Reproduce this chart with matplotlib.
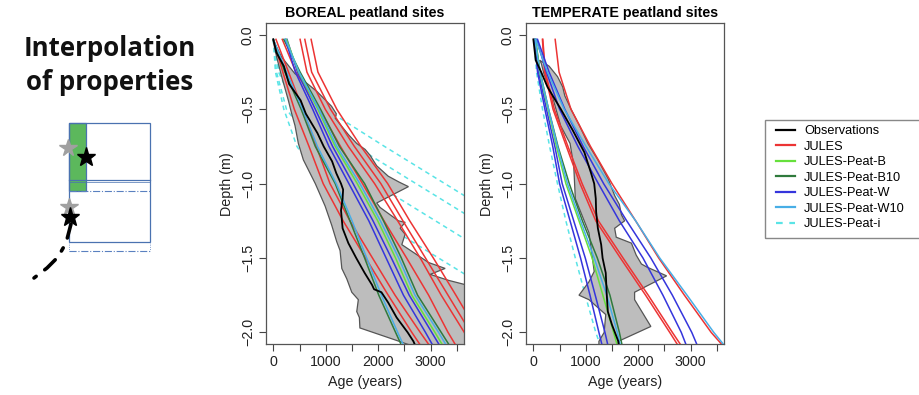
import matplotlib
matplotlib.use("Agg")
import matplotlib.pyplot as plt
from matplotlib.patches import Rectangle
from matplotlib.lines import Line2D
import numpy as np

plt.rcParams['font.family'] = ['Liberation Sans', 'DejaVu Sans']

# ---------------- data (ages in years, depth in m below surface) ----------------
depth = [0.03, 0.25, 0.5, 0.75, 1.0, 1.25, 1.5, 1.75, 2.0, 2.1]

# BOREAL
bor_obs_depth = [0.03, 0.12, 0.21, 0.33, 0.44, 0.53, 0.66, 0.75, 0.85, 0.93, 1.0, 1.04, 1.1,
                 1.18, 1.3, 1.4, 1.5, 1.6, 1.68, 1.71, 1.73, 1.8, 1.9, 2.0, 2.06, 2.1]
bor_obs_age = [0, 60, 200, 300, 520, 620, 840, 960, 1120, 1200, 1290, 1330, 1320,
               1290, 1320, 1430, 1580, 1740, 1880, 1920, 2060, 2190, 2350, 2560, 2670, 2720]
bor_env_depth = [0.03, 0.15, 0.26, 0.38, 0.48, 0.53, 0.56, 0.6, 0.67, 0.73, 0.77, 0.81, 0.88,
                 0.95, 0.99, 1.02, 1.13, 1.16, 1.25, 1.26, 1.30, 1.34, 1.41, 1.47, 1.53, 1.57,
                 1.61, 1.65, 1.68, 1.70, 2.2, 2.08, 2.05, 1.97, 1.90, 1.86, 1.78, 1.73, 1.64,
                 1.57, 1.45, 1.39, 1.28, 1.15, 1.0, 0.84, 0.73, 0.61, 0.53, 0.44, 0.28, 0.15]
bor_env_age = [-10, 160, 410, 830, 1110, 1200, 1180, 1270, 1430, 1590, 1750, 1845, 1970,
               2190, 2400, 2575, 1970, 2035, 2385, 2512, 2417, 2512, 2449, 2703, 2957, 3275,
               2989, 3339, 3670, 3900, 3900, 2560, 2316, 1650, 1640, 1590, 1620, 1495, 1400,
               1305, 1272, 1208, 1113, 986, 800, 572, 477, 413, 350, 286, 159, 64]
bor_jules = [[510, 640, 990, 1430, 1930, 2370, 2800, 3200, 3640, 3820],
             [600, 730, 1090, 1545, 2050, 2470, 2900, 3330, 3760, 3950],
             [720, 850, 1210, 1670, 2180, 2600, 3050, 3480, 3900, 4100],
             [170, 430, 880, 1280, 1700, 2110, 2540, 2960, 3330, 3500],
             [0, 180, 400, 680, 950, 1330, 1760, 2190, 2640, 2830],
             [50, 290, 560, 820, 1080, 1460, 1890, 2320, 2800, 3000]]
bor_peat_b = [[250, 480, 850, 1180, 1600, 1990, 2330, 2640, 3080, 3250]]
bor_peat_b10 = [[200, 510, 900, 1260, 1740, 2100, 2440, 2750, 3200, 3380],
                [0, 220, 530, 800, 1180, 1460, 1740, 2010, 2330, 2460]]
bor_peat_w = [[230, 420, 750, 1060, 1440, 1820, 2150, 2480, 2900, 3060],
              [260, 460, 800, 1130, 1520, 1900, 2250, 2590, 3020, 3190]]
bor_peat_w10 = [[230, 490, 870, 1210, 1650, 2040, 2390, 2700, 3150, 3320],
                [0, 250, 560, 840, 1200, 1500, 1780, 2060, 2370, 2500]]
bor_peat_i = [[0, 120, 1000, 2120, 3270, 4420, 5570, 6700, 7800, 8300],
              [0, 100, 420, 1570, 2720, 3870, 5020, 6170, 7300, 7800],
              [0, 60, 250, 790, 1940, 3090, 4240, 5390, 6500, 7000],
              [0, 40, 200, 450, 950, 2000, 3150, 4300, 5450, 5900]]

# TEMPERATE
tem_obs_depth = [0.03, 0.17, 0.25, 0.35, 0.5, 0.64, 0.79, 0.93, 1.0, 1.1, 1.19, 1.3, 1.41,
                 1.5, 1.6, 1.75, 1.86, 1.95, 2.06, 2.1]
tem_obs_age = [0, 45, 150, 269, 525, 749, 973, 1101, 1160, 1190, 1197, 1230, 1293,
               1320, 1380, 1400, 1420, 1500, 1620, 1640]
tem_env_depth = [0.17, 0.21, 0.28, 0.35, 0.41, 0.5, 0.61, 0.73, 0.84, 0.97, 1.08, 1.14, 1.21,
                 1.25, 1.30, 1.36, 1.40, 1.48, 1.54, 1.56, 1.62, 1.73, 1.78, 1.96, 2.06, 2.2,
                 2.2, 2.06, 2.0, 1.88, 1.78, 1.75, 1.66, 1.59, 1.33, 1.10, 0.88, 0.73, 0.61,
                 0.41, 0.26, 0.19]
tem_env_age = [120, 300, 460, 560, 600, 720, 880, 1040, 1230, 1430, 1550, 1640, 1680,
               1740, 1550, 1580, 1870, 1960, 2060, 2160, 2540, 1930, 1930, 2240, 1620, 1550,
               1250, 1250, 1350, 1380, 1060, 870, 1060, 1160, 1060, 800, 770, 700, 520,
               360, 200, 150]
tem_jules = [[416, 490, 717, 1090, 1500, 1950, 2390, 2880, 3390, 3640],
             [173, 215, 375, 630, 890, 1190, 1660, 2140, 2600, 2780],
             [180, 230, 400, 660, 930, 1240, 1710, 2190, 2650, 2840]]
tem_peat_b = [[40, 120, 280, 440, 620, 870, 1120, 1325, 1530, 1610]]
tem_peat_b10 = [[40, 130, 290, 470, 685, 935, 1220, 1460, 1640, 1700]]
tem_peat_w = [[60, 250, 500, 850, 1240, 1640, 2090, 2470, 2820, 2930],
              [80, 300, 600, 950, 1340, 1780, 2240, 2650, 3020, 3140],
              [30, 100, 250, 410, 550, 770, 990, 1180, 1365, 1430],
              [20, 80, 220, 370, 500, 700, 900, 1080, 1250, 1320]]
tem_peat_w10 = [[45, 269, 589, 1005, 1440, 1950, 2410, 2930, 3440, 3670],
                [30, 125, 290, 460, 650, 900, 1160, 1400, 1600, 1670]]
tem_peat_i = [[13, 60, 175, 310, 460, 620, 800, 990, 1190, 1290]]

legend_labels = ["Observations", "JULES", "JULES-Peat-B", "JULES-Peat-B10",
                 "JULES-Peat-W", "JULES-Peat-W10", "JULES-Peat-i"]

# left sketch (pixel coordinates of the illustration)
sketch_box = (69, 123, 81, 119)
sketch_green = (69, 123, 17, 68)
sketch_mid_y = 180
sketch_dash_y = [191, 251]
sketch_stars_grey = [(68, 148), (69, 207)]
sketch_stars_black = [(86, 157), (70, 217)]
sketch_path_x = [71, 66, 58, 47, 34]
sketch_path_y = [224, 243, 257, 268, 278]

# ---------------- style ----------------
c_obs = 'black'
c_jules = '#ec3434'
c_b = '#66e03c'
c_b10 = '#2f7a3c'
c_w = '#3535dc'
c_w10 = '#48aee6'
c_i = '#5ae4e6'
lw = 1.1
dash = (3, 2.5)

fig = plt.figure(figsize=(9.2, 3.95), dpi=100)

# illustration layer
dax = fig.add_axes([0, 0, 1, 1])
dax.set_xlim(0, 920)
dax.set_ylim(395, 0)
dax.axis('off')
dax.text(110, 49, "Interpolation", ha='center', va='center', fontsize=18.6,
         fontweight='bold', family=['Open Sans', 'DejaVu Sans'], color='#111111')
dax.text(110, 82, "of properties", ha='center', va='center', fontsize=18.6,
         fontweight='bold', family=['Open Sans', 'DejaVu Sans'], color='#111111')
bx, by, bw, bh = sketch_box
gx, gy, gw, gh = sketch_green
dax.add_patch(Rectangle((gx, gy), gw, gh, facecolor='#5cb85c', edgecolor='#4a72b0', lw=0.9))
dax.add_patch(Rectangle((bx, by), bw, bh, facecolor='none', edgecolor='#4a72b0', lw=0.9))
dax.plot([bx, bx + bw], [sketch_mid_y, sketch_mid_y], color='#4a72b0', lw=0.9)
dax.plot([bx, bx + bw], [sketch_mid_y + 2, sketch_mid_y + 2], color='#4a72b0', lw=0.5)
for yy in sketch_dash_y:
    dax.plot([bx, bx + bw], [yy, yy], color='#5a80c0', lw=0.8, ls='-.')
dax.plot([bx, bx], [by + bh, sketch_dash_y[1]], color='#5a80c0', lw=0.6, ls=':')
dax.plot([bx + bw, bx + bw], [by + bh, sketch_dash_y[1]], color='#5a80c0', lw=0.6, ls=':')
for (sx, sy) in sketch_stars_grey:
    dax.plot(sx, sy, marker='*', ms=13, color='#a0a0a0', mec='#a0a0a0')
for (sx, sy) in sketch_stars_black:
    dax.plot(sx, sy, marker='*', ms=14, color='black')
dax.plot(sketch_path_x, sketch_path_y, color='black', lw=2.6, ls=(0, (4, 3, 1, 3)),
         solid_capstyle='round', dash_capstyle='round')


def panel(ax, title, env_d, env_a, obs_d, obs_a, jules, pb, pb10, pw, pw10, pi):
    d = -np.array(depth)
    for ages in pi:
        ax.plot(ages, d, color=c_i, lw=lw, ls=(0, dash), zorder=1)
    ax.fill(env_a, -np.array(env_d), facecolor='#bdbdbd', edgecolor='#555555',
            lw=0.9, zorder=2)
    for group, col in ((jules, c_jules), (pb10, c_b10), (pw, c_w), (pb, c_b), (pw10, c_w10)):
        for ages in group:
            ax.plot(ages, d, color=col, lw=lw, zorder=3)
    ax.plot(obs_a, -np.array(obs_d), color=c_obs, lw=1.3, zorder=4)
    ax.set_xlim(-140, 3640)
    ax.set_ylim(-2.08, 0.08)
    ax.set_xticks(np.arange(0, 3501, 500))
    ax.set_xticklabels(['0', '', '1000', '', '2000', '', '3000', ''])
    ax.set_yticks([0, -0.5, -1.0, -1.5, -2.0])
    ax.set_yticklabels(['0.0', '\u22120.5', '\u22121.0', '\u22121.5', '\u22122.0'])
    ax.tick_params(axis='both', labelsize=10.3, length=5, width=0.8, color='#444444',
                   labelcolor='#222222', pad=3)
    ax.tick_params(axis='y', labelrotation=90)
    for lab in ax.get_yticklabels():
        lab.set_va('center')
    for s in ax.spines.values():
        s.set_color('#555555')
        s.set_linewidth(0.9)
    ax.set_title(title, fontsize=10.3, fontweight='bold', pad=4)
    ax.set_xlabel('Age (years)', fontsize=10.3, color='#222222', labelpad=4)
    ax.set_ylabel('Depth (m)', fontsize=10.3, color='#222222', labelpad=5)


ax1 = fig.add_axes([266 / 920, 1 - 344.3 / 395, 198.3 / 920, 321.3 / 395])
panel(ax1, 'BOREAL peatland sites', bor_env_depth, bor_env_age, bor_obs_depth, bor_obs_age,
      bor_jules, bor_peat_b, bor_peat_b10, bor_peat_w, bor_peat_w10, bor_peat_i)
ax2 = fig.add_axes([526 / 920, 1 - 344.3 / 395, 198.3 / 920, 321.3 / 395])
panel(ax2, 'TEMPERATE peatland sites', tem_env_depth, tem_env_age, tem_obs_depth, tem_obs_age,
      tem_jules, tem_peat_b, tem_peat_b10, tem_peat_w, tem_peat_w10, tem_peat_i)

# legend
fig.patches.append(Rectangle((765 / 920, 1 - 238 / 395), 200 / 920, 118 / 395,
                             transform=fig.transFigure, fill=False, edgecolor='#888888',
                             lw=1.0))
handles = [Line2D([], [], color=c_obs, lw=1.6), Line2D([], [], color=c_jules, lw=1.6),
           Line2D([], [], color=c_b, lw=1.6), Line2D([], [], color=c_b10, lw=1.6),
           Line2D([], [], color=c_w, lw=1.6), Line2D([], [], color=c_w10, lw=1.6),
           Line2D([], [], color=c_i, lw=1.6, ls=(0, (3, 3)))]
fig.legend(handles, legend_labels, loc='upper left', bbox_to_anchor=(776 / 920, 1 - 125.5 / 395),
           frameon=False, fontsize=9.2, handlelength=1.45, handletextpad=0.75,
           labelspacing=0.27, borderpad=0, borderaxespad=0)

fig.savefig('out.png', dpi=100)
